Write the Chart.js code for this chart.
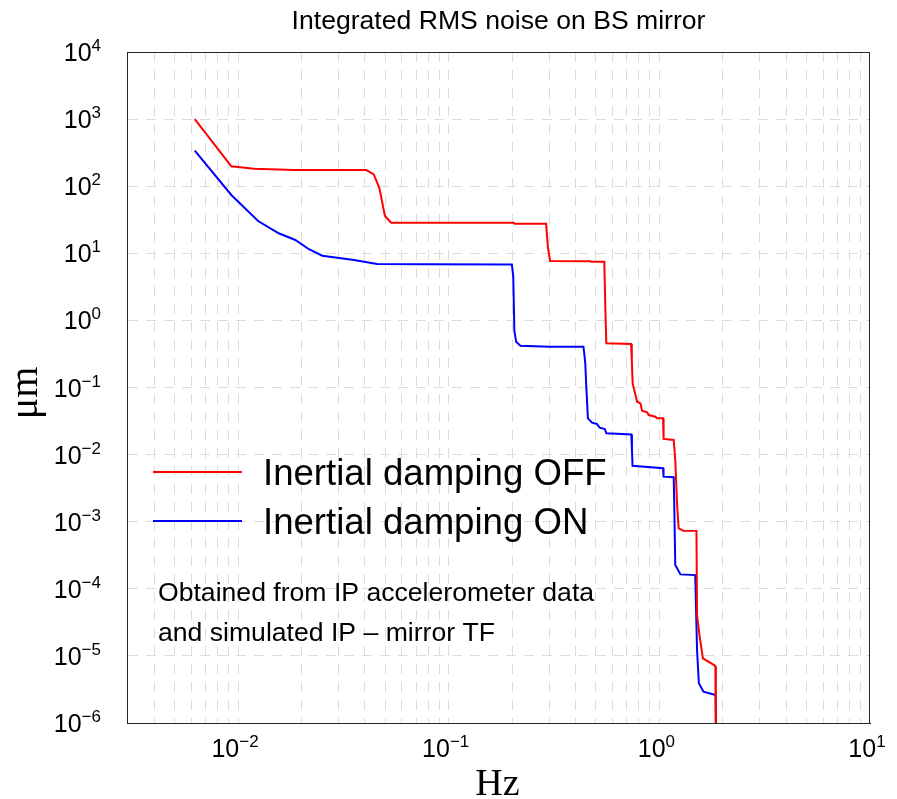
<!DOCTYPE html>
<html><head><meta charset="utf-8">
<script src="https://cdn.jsdelivr.net/npm/chart.js@4/dist/chart.umd.min.js"></script>
<style>html,body{margin:0;padding:0;background:#fff}#wrap{width:897px;height:799px;position:relative}</style>
</head><body><div id="wrap"><canvas id="c"></canvas></div>
<script>
const chartTitle = 'Integrated RMS noise on BS mirror';
const xAxisTitle = 'Hz';
const yAxisTitle = 'μm';
const seriesLabels = ['Inertial damping OFF', 'Inertial damping ON'];
const seriesColors = ['#ff0000', '#0000ff'];
const noteLines = ['Obtained from IP accelerometer data', 'and simulated IP – mirror TF'];
const xTickExponents = [-2, -1, 0, 1];
const yTickExponents = [-6, -5, -4, -3, -2, -1, 0, 1, 2, 3, 4];

const freqOff = [0.00623, 0.00929, 0.0119, 0.0184, 0.0406, 0.0441, 0.0469, 0.0498, 0.0533, 0.203, 0.206, 0.290, 0.296, 0.303, 0.470, 0.475, 0.548, 0.554, 0.560, 0.734, 0.740, 0.747, 0.784, 0.813, 0.828, 0.875, 0.890, 0.957, 0.975, 1.041, 1.046, 1.049, 1.17, 1.19, 1.213, 1.235, 1.30, 1.50, 1.51, 1.55, 1.61, 1.71, 1.82, 1.845, 1.855];
const rmsOff = [1000, 198, 182, 174, 174, 150, 93, 36, 28.6, 28.6, 27.5, 27.5, 12, 7.67, 7.6, 7.5, 7.5, 1.5, 0.456, 0.445, 0.25, 0.115, 0.0614, 0.058, 0.045, 0.0426, 0.0389, 0.0367, 0.0347, 0.0347, 0.022, 0.0171, 0.0165, 0.0083, 0.00188, 0.000796, 0.000734, 0.00073, 4.0e-5, 2.05e-5, 9.2e-6, 8.2e-6, 7.3e-6, 7.0e-6, 3e-7];

const freqOn = [0.00623, 0.00929, 0.01245, 0.0156, 0.0187, 0.0217, 0.0251, 0.0355, 0.0457, 0.080, 0.1995, 0.2025, 0.205, 0.209, 0.219, 0.300, 0.436, 0.441, 0.445, 0.450, 0.458, 0.479, 0.505, 0.521, 0.551, 0.560, 0.736, 0.741, 0.746, 1.041, 1.047, 1.17, 1.178, 1.19, 1.26, 1.48, 1.51, 1.54, 1.62, 1.85, 1.865];
const rmsOn = [338, 74, 30.3, 19.9, 15.8, 11.5, 9.2, 7.94, 6.92, 6.85, 6.8, 4.5, 0.7, 0.48, 0.42, 0.405, 0.405, 0.3, 0.229, 0.103, 0.0347, 0.0299, 0.0286, 0.0252, 0.0241, 0.0208, 0.0200, 0.012, 0.0068, 0.00625, 0.00469, 0.0046, 0.0015, 0.000226, 0.000164, 0.00016, 1.22e-5, 3.9e-6, 2.93e-6, 2.61e-6, 3e-7];

const SANS = "'Liberation Sans', Arial, Helvetica, sans-serif";
const SERIF = "'Liberation Serif', 'Times New Roman', serif";

function toPoints(xs, ys) { return xs.map((x, i) => ({ x: x, y: ys[i] })); }

function drawPow(ctx, exp, x, y, align) {
  const baseFont = '25px ' + SANS, expFont = '17px ' + SANS;
  const expStr = exp < 0 ? '\u2212' + Math.abs(exp) : String(exp);
  ctx.font = baseFont; const wb = ctx.measureText('10').width;
  ctx.font = expFont; const we = ctx.measureText(expStr).width;
  let x0;
  if (align === 'right') x0 = x - wb - we; else x0 = x - (wb + we) / 2;
  const base = y + 9;
  ctx.textAlign = 'left'; ctx.textBaseline = 'alphabetic';
  ctx.font = baseFont; ctx.fillText('10', x0, base);
  ctx.font = expFont; ctx.fillText(expStr, x0 + wb, base - 10);
}

const decorPlugin = {
  id: 'decor',
  afterDraw(chart) {
    const ctx = chart.ctx, a = chart.chartArea;
    const xs = chart.scales.x, ys = chart.scales.y;
    ctx.save();
    ctx.strokeStyle = '#262626'; ctx.lineWidth = 1;
    ctx.strokeRect(a.left + 0.5, a.top + 0.5, a.right - a.left - 1, a.bottom - a.top);
    ctx.fillStyle = '#000';
    ctx.font = '26.6px ' + SANS; ctx.textAlign = 'center'; ctx.textBaseline = 'alphabetic';
    ctx.fillText(chartTitle, (a.left + a.right) / 2, 29);
    yTickExponents.forEach(e => drawPow(ctx, e, 101, ys.getPixelForValue(Math.pow(10, e)), 'right'));
    xTickExponents.forEach(e => drawPow(ctx, e, xs.getPixelForValue(Math.pow(10, e)) - 3, 748, 'center'));
    ctx.font = '38px ' + SERIF; ctx.textAlign = 'center'; ctx.textBaseline = 'alphabetic';
    ctx.fillText(xAxisTitle, (a.left + a.right) / 2 - 1, 795);
    ctx.save();
    ctx.translate(37, 393); ctx.rotate(-Math.PI / 2);
    ctx.font = '40px ' + SERIF; ctx.fillText(yAxisTitle, 0, 0);
    ctx.restore();
    const legY = [472, 521];
    chart.data.datasets.forEach((ds, i) => {
      ctx.strokeStyle = ds.borderColor; ctx.lineWidth = 2;
      ctx.beginPath(); ctx.moveTo(a.left + 26, legY[i]); ctx.lineTo(a.left + 115, legY[i]); ctx.stroke();
      ctx.fillStyle = '#000'; ctx.font = '36.6px ' + SANS; ctx.textAlign = 'left'; ctx.textBaseline = 'alphabetic';
      ctx.fillText(ds.label, 263, legY[i] + 13);
    });
    ctx.font = '26.6px ' + SANS;
    noteLines.forEach((t, i) => ctx.fillText(t, 158, 601 + i * 40));
    ctx.restore();
  }
};

function minorTicks(min, max) {
  const t = [];
  for (let e = -4; e <= 2; e++) for (let m = 1; m <= 9; m++) {
    const v = m * Math.pow(10, e);
    if (v >= min * 1.0001 && v <= max * 0.9999) t.push({ value: v });
  }
  return t;
}

new Chart(document.getElementById('c'), {
  type: 'line',
  data: {
    datasets: [
      { label: seriesLabels[0], data: toPoints(freqOff, rmsOff), borderColor: seriesColors[0], backgroundColor: seriesColors[0], borderWidth: 2, pointRadius: 0, tension: 0, fill: false },
      { label: seriesLabels[1], data: toPoints(freqOn, rmsOn), borderColor: seriesColors[1], backgroundColor: seriesColors[1], borderWidth: 2, pointRadius: 0, tension: 0, fill: false }
    ]
  },
  options: {
    responsive: true, maintainAspectRatio: false, animation: false,
    layout: { padding: { left: 0, top: 52, right: 27, bottom: 0 } },
    plugins: { legend: { display: false }, title: { display: false }, tooltip: { enabled: false } },
    scales: {
      x: {
        type: 'logarithmic', min: 0.00297, max: 10,
        afterBuildTicks: s => { s.ticks = minorTicks(0.00297, 10); },
        afterFit: s => { s.height = 76; },
        ticks: { display: false },
        grid: { color: '#dcdcdc', lineWidth: 1, drawTicks: false },
        border: { display: true, color: '#262626', width: 1, dash: [10, 8] }
      },
      y: {
        type: 'logarithmic', min: 1e-6, max: 1e4,
        afterBuildTicks: s => { s.ticks = yTickExponents.map(e => ({ value: Math.pow(10, e) })); },
        afterFit: s => { s.width = 127; },
        ticks: { display: false },
        grid: { color: '#dcdcdc', lineWidth: 1, drawTicks: false },
        border: { display: true, color: '#262626', width: 1, dash: [10, 8] }
      }
    }
  },
  plugins: [decorPlugin]
});
</script>
</body></html>
